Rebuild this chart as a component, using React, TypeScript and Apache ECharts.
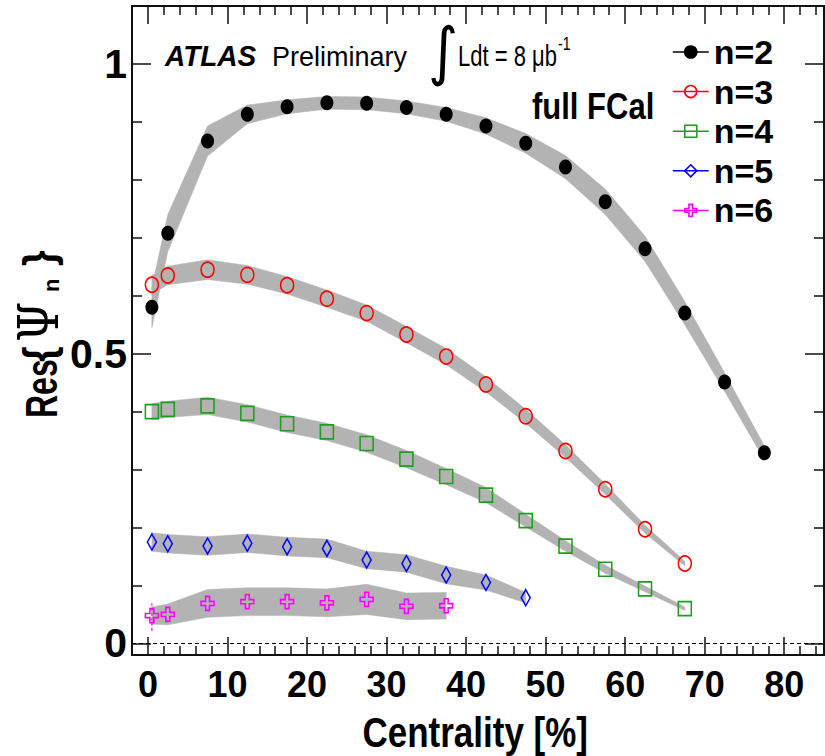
import React, { useEffect, useRef } from "react";
import * as echarts from "echarts";

// ---------- data ----------
const centrality = [0.5, 2.5, 7.5, 12.5, 17.5, 22.5, 27.5, 32.5, 37.5, 42.5, 47.5, 52.5, 57.5, 62.5, 67.5, 72.5, 77.5];

const resN2 = [0.580, 0.708, 0.867, 0.913, 0.926, 0.933, 0.932, 0.925, 0.913, 0.893, 0.863, 0.822, 0.762, 0.681, 0.570, 0.451, 0.329];
const sysN2 = [0.035, 0.032, 0.026, 0.016, 0.012, 0.011, 0.011, 0.011, 0.012, 0.014, 0.017, 0.020, 0.022, 0.022, 0.020, 0.016, 0.012];

const resN3 = [0.619, 0.635, 0.645, 0.636, 0.618, 0.595, 0.570, 0.533, 0.495, 0.447, 0.392, 0.332, 0.266, 0.197, 0.138];
const sysN3 = [0.016, 0.016, 0.017, 0.016, 0.015, 0.015, 0.014, 0.014, 0.014, 0.013, 0.012, 0.011, 0.009, 0.007, 0.004];

const resN4 = [0.400, 0.404, 0.410, 0.397, 0.379, 0.365, 0.345, 0.318, 0.288, 0.256, 0.212, 0.168, 0.128, 0.094, 0.060];
const sysN4 = [0.014, 0.014, 0.015, 0.015, 0.015, 0.015, 0.015, 0.015, 0.014, 0.013, 0.011, 0.009, 0.007, 0.005, 0.003];

const resN5 = [0.175, 0.172, 0.168, 0.173, 0.167, 0.164, 0.144, 0.138, 0.118, 0.105, 0.079];
const sysN5 = [0.016, 0.016, 0.016, 0.016, 0.016, 0.016, 0.015, 0.015, 0.015, 0.013, 0.009];

const resN6 = [0.048, 0.050, 0.069, 0.072, 0.072, 0.070, 0.076, 0.064, 0.065];
const sysN6 = [0.015, 0.018, 0.024, 0.024, 0.024, 0.024, 0.026, 0.023, 0.023];

// statistical error bar visible on the first n=6 point: [x, low, high]
const statN6First = [0.5, 0.022, 0.069];

const seriesNames = ["n=2", "n=3", "n=4", "n=5", "n=6"];

const xMajorTicks = [0, 10, 20, 30, 40, 50, 60, 70, 80];
const xMinorTicks = [2, 4, 6, 8, 12, 14, 16, 18, 22, 24, 26, 28, 32, 34, 36, 38, 42, 44, 46, 48, 52, 54, 56, 58, 62, 64, 66, 68, 72, 74, 76, 78, 82, 84];
const yMajorTicks = [0, 0.5, 1];
const yMinorTicks = [0.1, 0.2, 0.3, 0.4, 0.6, 0.7, 0.8, 0.9];

const X_MIN = -2;
const X_MAX = 85;
const Y_MIN = -0.02;
const Y_MAX = 1.1;

// ---------- styles ----------
const FONT = '"Liberation Sans", Arial, Helvetica, sans-serif';
const SERIF = '"DejaVu Serif", "Liberation Serif", serif';
const BAND = "#b3b3b3";
const TICK = { color: "#111", width: 1.5 };
const CROSS =
  "path://M3.5,0 L6.5,0 L6.5,3.5 L10,3.5 L10,6.5 L6.5,6.5 L6.5,10 L3.5,10 L3.5,6.5 L0,6.5 L0,3.5 L3.5,3.5 Z";

function bandSeries(xs: number[], ys: number[], half: number[]) {
  const n = ys.length;
  const xv = xs.slice(0, n);
  return {
    type: "custom",
    silent: true,
    z: 1,
    data: xv.map((x, i) => [x, ys[i] - half[i], ys[i] + half[i]]),
    encode: { x: 0, y: [1, 2] },
    renderItem: (params: any, api: any) => {
      if (params.dataIndex !== 0) return null;
      const upper = xv.map((x, i) => api.coord([x, ys[i] + half[i]]));
      const lower = xv.map((x, i) => api.coord([x, ys[i] - half[i]])).reverse();
      return {
        type: "polygon",
        shape: { points: upper.concat(lower) },
        style: { fill: BAND, stroke: BAND, lineWidth: 0.5 },
      };
    },
  };
}

function pointSeries(
  name: string,
  xs: number[],
  ys: number[],
  color: string,
  symbol: string,
  size: number[],
  filled: boolean
) {
  return {
    type: "line",
    name,
    silent: true,
    z: 3,
    data: ys.map((y, i) => [xs[i], y]),
    symbol,
    symbolSize: size,
    showSymbol: true,
    showAllSymbol: true,
    lineStyle: { width: 0, color },
    itemStyle: filled
      ? { color, borderColor: color, borderWidth: 0 }
      : { color: "rgba(0,0,0,0)", borderColor: color, borderWidth: 1.6 },
  };
}

function txt(text: string, x: number, y: number, font: any, extra: any = {}) {
  return {
    type: "text",
    x,
    y,
    silent: true,
    ...extra,
    style: {
      text,
      fill: "#000",
      fontFamily: FONT,
      textAlign: "left",
      textVerticalAlign: "middle",
      align: "left",
      verticalAlign: "middle",
      ...font,
    },
  };
}

// rotated (bottom-to-top) piece of the y-axis title
function rtxt(text: string, x: number, y: number, font: any, scaleY: number) {
  return txt(text, x, y, font, { rotation: Math.PI / 2, scaleY });
}

function buildOption(): any {
  const xBase = {
    type: "value",
    min: X_MIN,
    max: X_MAX,
    splitLine: { show: false },
    axisLine: { show: false, onZero: false },
  };
  const yBase = {
    type: "value",
    min: Y_MIN,
    max: Y_MAX,
    splitLine: { show: false },
    axisLine: { show: false, onZero: false },
  };
  const labelFont = {
    fontSize: 36,
    fontWeight: "bold",
    fontFamily: FONT,
    color: "#000",
  };

  const xAxis = [
    {
      ...xBase,
      position: "bottom",
      axisTick: { inside: true, length: 18, customValues: xMajorTicks, lineStyle: TICK },
      axisLabel: { ...labelFont, customValues: xMajorTicks, margin: 11 },
    },
    {
      ...xBase,
      position: "bottom",
      axisTick: { inside: true, length: 9, customValues: xMinorTicks, lineStyle: TICK },
      axisLabel: { show: false },
    },
    {
      ...xBase,
      position: "top",
      axisTick: { inside: true, length: 18, customValues: xMajorTicks, lineStyle: TICK },
      axisLabel: { show: false },
    },
    {
      ...xBase,
      position: "top",
      axisTick: { inside: true, length: 9, customValues: xMinorTicks, lineStyle: TICK },
      axisLabel: { show: false },
    },
  ];
  const yAxis = [
    {
      ...yBase,
      position: "left",
      axisTick: { inside: true, length: 19, customValues: yMajorTicks, lineStyle: TICK },
      axisLabel: { ...labelFont, fontSize: 41, customValues: yMajorTicks, margin: 5 },
    },
    {
      ...yBase,
      position: "left",
      axisTick: { inside: true, length: 10, customValues: yMinorTicks, lineStyle: TICK },
      axisLabel: { show: false },
    },
    {
      ...yBase,
      position: "right",
      axisTick: { inside: true, length: 19, customValues: yMajorTicks, lineStyle: TICK },
      axisLabel: { show: false },
    },
    {
      ...yBase,
      position: "right",
      axisTick: { inside: true, length: 10, customValues: yMinorTicks, lineStyle: TICK },
      axisLabel: { show: false },
    },
  ];

  const series: any[] = [
    bandSeries(centrality, resN2, sysN2),
    bandSeries(centrality, resN3, sysN3),
    bandSeries(centrality, resN4, sysN4),
    bandSeries(centrality, resN5, sysN5),
    bandSeries(centrality, resN6, sysN6),
    {
      type: "line",
      silent: true,
      z: 2,
      symbol: "none",
      data: [
        [statN6First[0], statN6First[1]],
        [statN6First[0], statN6First[2]],
      ],
      lineStyle: { color: "#ff00ff", width: 1.2, type: [3, 2] },
      markLine: {
        silent: true,
        symbol: ["none", "none"],
        label: { show: false },
        lineStyle: { color: "#000", width: 1, type: [4, 3] },
        data: [{ yAxis: 0 }],
      },
    },
    pointSeries(seriesNames[0], centrality, resN2, "#000000", "circle", [13, 15], true),
    pointSeries(seriesNames[1], centrality, resN3, "#ff0000", "circle", [13, 15], false),
    pointSeries(seriesNames[2], centrality, resN4, "#1e9e1e", "rect", [13, 14], false),
    pointSeries(seriesNames[3], centrality, resN5, "#0000ff", "diamond", [9, 16], false),
    pointSeries(seriesNames[4], centrality, resN6, "#ff00ff", CROSS, [13, 14], false),
  ];

  const graphic = [
    txt("ATLAS", 165, 56, { fontSize: 28, fontWeight: "bold", fontStyle: "italic" }, { scaleY: 1.05 }),
    txt("Preliminary", 272, 56, { fontSize: 27 }, { scaleY: 1.05 }),
    txt("\u222B", 428, 51, { fontSize: 58, fontFamily: '"DejaVu Sans", sans-serif' }, { scaleY: 1.1 }),
    txt("Ldt = 8 \u03BCb", 458, 56, { fontSize: 22 }, { scaleY: 1.35 }),
    txt("-1", 558, 43, { fontSize: 14 }, { scaleY: 1.3 }),
    txt("full FCal", 532, 106, { fontSize: 31, fontWeight: "bold" }, { scaleY: 1.2 }),
    txt("Centrality [%]", 588, 732, { fontSize: 35, fontWeight: "bold", textAlign: "right", align: "right" }, { scaleY: 1.2 }),
    // y-axis title: Res{Ψ_n}
    rtxt("Res", 41, 418, { fontSize: 32, fontWeight: "bold" }, 1.4),
    rtxt("{", 39, 362, { fontSize: 40, fontWeight: "bold" }, 1.1),
    rtxt("\u03A8", 39, 342, { fontSize: 46, fontFamily: SERIF }, 1.2),
    rtxt("n", 51, 292, { fontSize: 22, fontWeight: "bold" }, 1.0),
    rtxt("}", 39, 266, { fontSize: 40, fontWeight: "bold" }, 1.1),
  ];

  return {
    animation: false,
    backgroundColor: "#ffffff",
    grid: {
      left: 132,
      right: 1,
      top: 6,
      bottom: 101,
      show: true,
      borderColor: "#111",
      borderWidth: 2,
      backgroundColor: "rgba(0,0,0,0)",
    },
    legend: {
      orient: "vertical",
      left: 667,
      top: 30,
      padding: 5,
      itemWidth: 36,
      itemHeight: 15,
      itemGap: 5.6,
      selectedMode: false,
      data: seriesNames,
      textStyle: { fontSize: 34, fontWeight: "bold", fontFamily: FONT, color: "#000", lineHeight: 34 },
      lineStyle: { width: 1.5 },
      itemStyle: { borderWidth: 1.6 },
    },
    xAxis,
    yAxis,
    series,
    graphic,
  };
}

export default function App() {
  const ref = useRef<HTMLDivElement>(null);
  useEffect(() => {
    document.body.style.margin = "0";
    if (!ref.current) return;
    const chart = echarts.init(ref.current, undefined, { renderer: "svg" });
    chart.setOption(buildOption());
    return () => {
      chart.dispose();
    };
  }, []);
  return <div ref={ref} style={{ width: 825, height: 756 }} />;
}
